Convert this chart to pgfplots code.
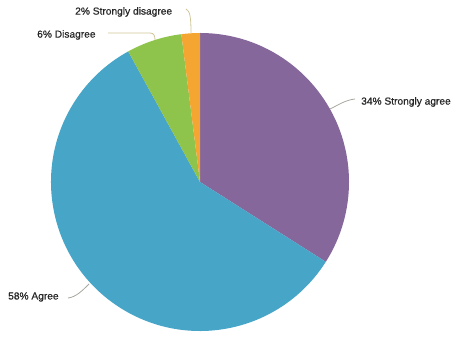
\documentclass[border=0pt]{standalone}
\usepackage{pgfplots}
\pgfplotsset{compat=1.18}
\usepackage{fontspec}
\setmainfont{Liberation Sans}[BoldFont=Liberation Sans, BoldFeatures={FakeBold=0.6}]
\definecolor{cPurple}{HTML}{86679C}
\definecolor{cBlue}{HTML}{47A5C8}
\definecolor{cGreen}{HTML}{8EC44B}
\definecolor{cOrange}{HTML}{F4A532}
\definecolor{cLead}{HTML}{A8A8A0}
\definecolor{cLeadY}{HTML}{CFC79A}
% shares in percent
\def\vA{34}\def\vB{58}\def\vC{6}\def\vD{2}
\pgfmathsetmacro\aA{90}
\pgfmathsetmacro\aB{\aA-3.6*\vA}
\pgfmathsetmacro\aC{\aB-3.6*\vB}
\pgfmathsetmacro\aD{\aC-3.6*\vC}
\pgfmathsetmacro\aE{\aD-3.6*\vD}
\begin{document}
\begin{tikzpicture}
\begin{axis}[x=1pt,y=1pt,xmin=0,xmax=457,ymin=0,ymax=333,hide axis,clip=false]
\path (0,0) rectangle (457,333);
\fill[cPurple] (200,151) -- ({200+149*cos(\aA)},{151+149*sin(\aA)}) arc[start angle=\aA, end angle=\aB, radius=149] -- cycle;
\fill[cBlue] (200,151) -- ({200+149*cos(\aB)},{151+149*sin(\aB)}) arc[start angle=\aB, end angle=\aC, radius=149] -- cycle;
\fill[cGreen] (200,151) -- ({200+149*cos(\aC)},{151+149*sin(\aC)}) arc[start angle=\aC, end angle=\aD, radius=149] -- cycle;
\fill[cOrange] (200,151) -- ({200+149*cos(\aD)},{151+149*sin(\aD)}) arc[start angle=\aD, end angle=\aE, radius=149] -- cycle;
% leader lines
\draw[cLead, line width=0.8pt] (330,224) .. controls (340,229) and (346,233) .. (355,234);
\draw[cLead, line width=0.8pt] (89,49) .. controls (82,42) and (76,36) .. (68,35);
\draw[cLeadY, line width=0.8pt] (108,300) -- (150,300) .. controls (154,300) and (155,297) .. (155,293);
\draw[cLeadY, line width=0.8pt] (186,324) .. controls (190,322) and (191,316) .. (191,300);
% labels
\tikzset{lbl/.style={anchor=west, inner sep=0pt, font=\fontsize{10.2}{12}\selectfont\bfseries, text=black!85}}
\node[lbl] at (361,231) {34\% Strongly agree};
\node[lbl] at (8,36) {58\% Agree};
\node[lbl] at (37,298) {6\% Disagree};
\node[lbl] at (75,321) {2\% Strongly disagree};
\end{axis}
\end{tikzpicture}
\end{document}
